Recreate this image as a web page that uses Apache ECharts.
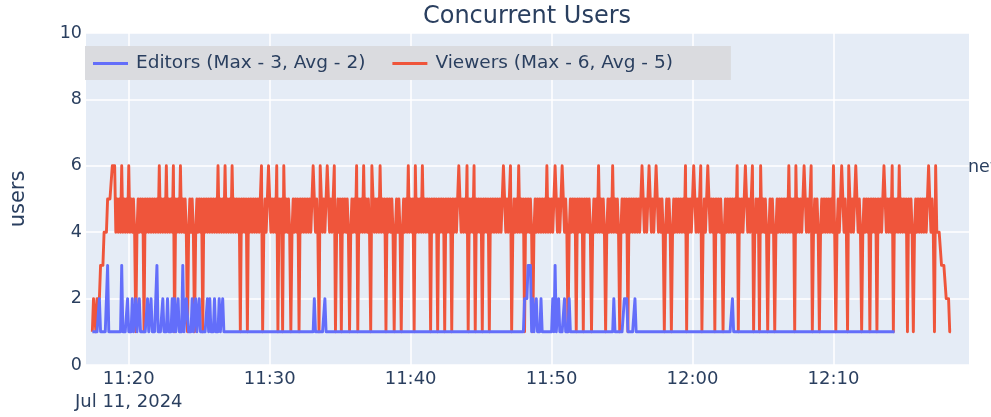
<!DOCTYPE html>
<html><head><meta charset="utf-8">
<script src="https://cdn.jsdelivr.net/npm/echarts@6/dist/echarts.min.js"></script>
<style>html,body{margin:0;padding:0;background:#fff}#c{width:991px;height:417px}</style>
</head><body><div id="c"></div>
<script>
// ---- data ----
const chartTitle = 'Concurrent Users';
const yAxisTitle = 'users';
const seriesNames = ['Editors (Max - 3, Avg - 2)', 'Viewers (Max - 6, Avg - 5)'];
const seriesColors = ['#636EFA', '#EF553B'];
const cutAnnotation = 'new';
const day = '2024-07-11';
const dateLabel = 'Jul 11, 2024';
const startTime = '11:17:25';
const stepSeconds = 5;          // one character = one sample, 12 samples per minute
const xRange = ['11:16:58', '12:19:37'];
const xTickTimes = ['11:20', '11:30', '11:40', '11:50', '12:00', '12:10'];
const yTicks = [0, 2, 4, 6, 8, 10];

const editorsByMinute = [
  '111111211111','131111111111','131111211121','121121111112','112111131111',
  '211121112121','121113112211','121121121111','112121112111','211211111111',
  '111111111111','111111111111','111111111111','111111111111','111111111111',
  '111111111211','111111211111','111111111111','111111111111','111111111111',
  '111111111111','111111111111','111111111111','111111111111','111111111111',
  '111111111111','111111111111','111111111111','111111111111','111111111111',
  '111111112223','331211211121','111111112131','121111211121','111111111111',
  '111111111111','111111111111','211111111222','111111211111','111111111111',
  '111111111111','111111111111','111111111111','111111111111','111111111111',
  '111112111111','111111111111','111111111111','111111111111','111111111111',
  '111111111111','111111111111','111111111111','111111111111','111111111111',
  '111111111111','111111111111'
];
const viewersByMinute = [
  '122122233344','455556664545','464545464545','414545451545','454545454645',
  '454645454615','454645454145','454145454515','454545454546','454546454546',
  '454545154545','154545454545','614545654545','461545164545','414545451545',
  '454545456545','416545456545','456145451545','454145454615','454645454165',
  '454546454515','454541454541','454546454516','454546454545','154545154545',
  '154545154545','654545461545','461545451545','451545454545','456545456145',
  '454645451545','454145454545','454645454565','454565454145','454515454515',
  '454541454546','454541454546','454541454545','154545454545','654545654545',
  '654545414545','414545454545','461545456545','456145456545','451545454145',
  '454545454615','454565454561','454516454541','454541454545','454546454516',
  '454545654545','614545414545','454545464145','456545416545','456545414545',
  '451545451545','456545454615','454645454515','454145454545','454565454164',
  '444333322211'
];

// ---- build ----
const ts = hm => new Date(day + 'T' + (hm.length === 5 ? hm + ':00' : hm)).getTime();
function toPoints(chunks) {
  const t0 = ts(startTime);
  return Array.from(chunks.join('')).map((ch, i) => [t0 + i * stepSeconds * 1000, Number(ch)]);
}
const tickValues = xTickTimes.map(ts);
const FONT = '"DejaVu Sans", Verdana, sans-serif';
const TXT = '#2a3f5f';

const chart = echarts.init(document.getElementById('c'), null, {renderer: 'canvas'});
chart.setOption({
  animation: false,
  backgroundColor: '#ffffff',
  textStyle: {fontFamily: FONT},
  grid: {left: 85, right: 22, top: 33, bottom: 52, show: true, backgroundColor: '#E5ECF6', borderWidth: 0, containLabel: false},
  legend: {
    data: seriesNames,
    left: 85, top: 46,
    orient: 'horizontal',
    backgroundColor: 'rgb(218,219,223)',
    padding: [8, 58, 7, 8],
    itemGap: 27,
    itemWidth: 35, itemHeight: 3,
    icon: 'rect',
    textStyle: {color: TXT, fontSize: 18.5, fontFamily: FONT, lineHeight: 18, padding: [0, 0, 0, 3]}
  },
  xAxis: {
    type: 'value',
    min: ts(xRange[0]),
    max: ts(xRange[1]),
    axisLine: {show: false},
    axisTick: {show: false, customValues: tickValues},
    splitLine: {show: true, lineStyle: {color: '#ffffff', width: 1.5}},
    axisLabel: {
      customValues: tickValues,
      color: TXT, fontSize: 18, fontFamily: FONT, margin: 3, lineHeight: 23,
      hideOverlap: false,
      formatter: (v) => {
        const i = tickValues.indexOf(v);
        const s = i >= 0 ? xTickTimes[i] : '';
        return i === 0 ? s + '\n' + dateLabel : s;
      }
    }
  },
  yAxis: {
    type: 'value', min: yTicks[0], max: yTicks[yTicks.length - 1], interval: yTicks[1] - yTicks[0],
    name: yAxisTitle, nameLocation: 'middle', nameGap: 57, nameRotate: 90,
    nameTextStyle: {color: TXT, fontSize: 21, fontFamily: FONT},
    axisLine: {show: false}, axisTick: {show: false},
    splitLine: {show: true, lineStyle: {color: '#ffffff', width: 1.5}},
    axisLabel: {color: TXT, fontSize: 17.5, fontFamily: FONT, margin: 4}
  },
  graphic: [
    {type: 'text', x: 527, y: 17, style: {text: chartTitle, fill: TXT, font: '24px "DejaVu Sans"', textAlign: 'center', textVerticalAlign: 'middle'}},
    {type: 'text', x: 968, y: 167, style: {text: cutAnnotation, fill: TXT, font: '17.5px "DejaVu Sans"', textAlign: 'left', textVerticalAlign: 'middle'}}
  ],
  series: [
    {name: seriesNames[0], type: 'line', data: toPoints(editorsByMinute), showSymbol: false, symbol: 'none', z: 3,
     lineStyle: {color: seriesColors[0], width: 2.9, join: 'round'}, itemStyle: {color: seriesColors[0]}},
    {name: seriesNames[1], type: 'line', data: toPoints(viewersByMinute), showSymbol: false, symbol: 'none', z: 2,
     lineStyle: {color: seriesColors[1], width: 2.9, join: 'round'}, itemStyle: {color: seriesColors[1]}}
  ]
});
</script>
</body></html>
